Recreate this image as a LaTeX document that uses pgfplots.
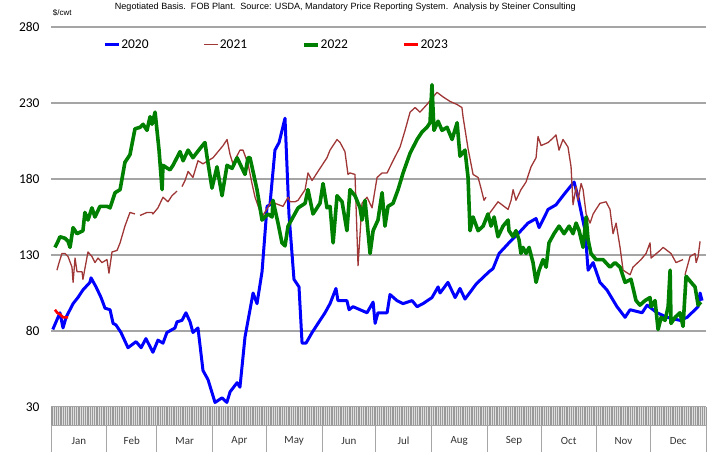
\documentclass[border=0pt]{standalone}
\usepackage{fontspec}
\setmainfont{Carlito}
\newfontfamily\arialfont{Liberation Sans}
\usepackage{pgfplots}
\pgfplotsset{compat=1.18}

\definecolor{c2020}{RGB}{0,0,255}
\definecolor{c2021}{RGB}{160,55,55}
\definecolor{c2022}{RGB}{0,128,0}
\definecolor{c2023}{RGB}{255,0,0}
\definecolor{gridgray}{RGB}{165,165,165}

\begin{document}
\begin{tikzpicture}
\begin{axis}[
    scale only axis,
    width=655bp, height=380bp,
    xmin=0, xmax=365,
    ymin=30, ymax=280,
    ytick={30,80,130,180,230,280},
    xtick=\empty,
    ymajorgrids,
    grid style={gridgray, line width=1.4bp},
    axis line style={draw=none},
    tick style={draw=none},
    yticklabel style={font=\fontsize{13.5}{14}\selectfont, anchor=east, xshift=-8bp},
    /pgf/number format/assume math mode=true,
    clip=false,
    unbounded coords=jump,
    legend columns=4,
    legend image code/.code={\draw[#1,line cap=butt] (0bp,0bp) -- (14bp,0bp);},
    legend style={at={(rel axis cs:0.075,0.975)}, anchor=north west, draw=none, fill=none,
        font=\fontsize{13.5}{14}\selectfont, nodes={inner sep=1bp},
        /tikz/every even column/.append style={column sep=54bp}},
]
% 2020
\addplot[c2020, line width=3bp, line join=round] coordinates {
(1,81) (5,92) (6.7,82) (8.4,89) (12.3,98) (15,102) (17.8,107) (21.7,112) (22.3,115) (25.1,109)
(27.9,102) (30.1,95) (32.9,94) (34.6,85) (36.2,84) (39,79) (42.9,69) (47.4,73) (50.2,69) (52.9,75)
(56.8,66) (59.6,74) (62.4,72) (64.6,79) (69.1,82) (70.2,86) (73,87) (75.2,92) (77.5,86) (79.1,79)
(81.9,82) (84.7,54) (87.5,48) (91.4,33) (95.3,36) (98,33) (99.8,40) (103.7,46) (105.3,43) (108.1,76)
(110.9,94) (112.6,105) (114.8,98) (117.6,119) (120.4,162) (122,163) (124.8,199) (127.1,204) (130.4,220) (132.6,157)
(135.4,114) (138.2,109) (139.9,72) (142.1,72) (145.5,79) (148.8,85) (152.7,92) (155.5,98) (158.8,108) (159.9,100)
(164.9,100) (166.1,94) (168.3,96) (176.1,92) (179.5,99) (180.6,85) (182.2,92) (187.3,92) (188.9,104) (192.8,100)
(196.2,98) (201.2,100) (204,96) (207.3,98) (212.3,102) (215.7,109) (216.8,105) (221.2,112) (225.2,102) (227.9,108)
(230.7,101) (237,111) (244.1,119) (246.3,121) (249.7,131) (255.2,138) (260.3,144) (265.8,151) (270.3,154) (272,148)
(277,160) (281.4,163) (285.3,169) (288.7,174) (291.5,178) (293.7,168) (297.6,146) (299.3,120) (302.1,125) (305.9,112)
(309.8,107) (315.4,96) (319.9,89) (322.7,94) (329.4,92) (332.2,97) (337.7,92) (343.3,89) (350.5,87) (354.5,89)
(360.6,96) (361.7,105) (362.8,100)
};
\addlegendentry{2020}
% 2021
\addplot[c2021, line width=1.3bp, line join=round] coordinates {
(3.3,120) (4.5,125) (6.1,131) (7.8,131) (9.5,129) (11.7,122) (12.3,112) (13.4,128) (14.5,119) (17.3,119)
(17.8,114) (20.6,132) (22.8,129) (24.5,125) (26.2,128) (28.4,125) (31.2,127) (32.3,118) (34,132) (36.8,133)
(38.5,138) (41.2,149) (44,158) (46.8,157) (48,nan) (49.6,156) (53.5,158) (56.3,158) (56.8,157) (59.6,161)
(62.4,168) (65.2,165) (67.4,169) (70.2,172) (71.5,nan) (73,175) (74.7,179) (76.4,185) (79.1,181) (81.9,192)
(84.7,190) (87.5,192) (90.3,194) (93.1,198) (95.9,202) (98.1,206) (99.8,196) (101.4,190) (105.3,199) (107,199)
(109.8,190) (112,177) (113.7,168) (117.6,155) (123.2,166) (124.8,164) (129.3,162) (132.1,168) (133.2,165) (136,165)
(137.7,166) (141.6,173) (143.2,184) (145.5,179) (149.9,187) (153.8,194) (155.5,199) (159.4,206) (161.1,204) (163.8,198)
(165.5,183) (166.6,184) (169.4,183) (171.1,123) (173.3,164) (176.1,168) (178.9,161) (181.7,181) (184.5,184) (187.3,184)
(190.6,192) (194.5,201) (197.3,212) (200.1,224) (202.9,227) (205.6,224) (209.5,229) (212.9,234) (215.1,237) (218.5,234)
(222.4,231) (226.3,229) (229,227) (229.6,221) (232.4,200) (235.2,183) (238,181) (239.6,174) (241.3,166) (242.4,168)
(243.3,nan) (244.1,157) (249.1,165) (254.7,160) (256.4,166) (257.5,173) (259.1,166) (261.9,173) (264.7,178) (267.5,188)
(270.3,194) (271.4,208) (273.1,202) (277,204) (279.8,207) (281.4,209) (283.1,199) (285.3,206) (288.1,201) (289.8,188)
(290.9,163) (292.6,175) (293.7,166) (295.4,177) (296.5,173) (298.2,157) (300.4,151) (302.1,157) (303.7,160) (305.9,164)
(309.3,165) (311.5,160) (313.2,144) (314.9,151) (317.1,135) (318.8,120) (322.7,117) (324.3,122) (328.8,127) (331.6,131)
(333.8,138) (334.4,128) (339.4,133) (341.1,135) (345.5,131) (348.3,125) (352.2,127) (352.8,nan) (353.3,117) (356.1,129)
(358.9,131) (359.5,125) (360.6,129) (361.7,139)
};
\addlegendentry{2021}
% 2022
\addplot[c2022, line width=3.6bp, line join=round] coordinates {
(2.2,135) (3.9,139) (5,142) (7.8,141) (9.5,139) (10.6,135) (12.3,148) (14.5,144) (17.8,146) (18.9,158)
(20.6,153) (22.8,161) (24.5,155) (27.3,162) (31.2,162) (32.9,161) (35.7,171) (38.5,173) (41.2,191) (44,196)
(46.8,213) (49.6,214) (51.3,216) (53.5,212) (55.2,221) (56.3,216) (58,224) (59.6,206) (60.2,199) (61.9,173)
(62.4,189) (66.3,186) (68,189) (71.9,198) (73.6,192) (76.4,199) (79.1,194) (83,200) (85.8,204) (86.9,195)
(89.7,174) (92.5,188) (95.3,169) (98.1,189) (100.9,187) (103.7,194) (105.3,190) (108.1,183) (109.8,194) (110.9,194)
(114.8,173) (117.6,153) (120.9,157) (123.2,155) (123.7,166) (126.5,151) (128.7,138) (130.4,136) (132.1,149) (134.9,155)
(137.7,161) (141.6,164) (143.2,173) (146,157) (149.9,164) (151.6,177) (153.8,161) (155.5,162) (157.2,138) (159.4,169)
(162.2,165) (164.9,146) (166.6,173) (169.4,169) (172.2,161) (173.3,153) (175,166) (177.8,131) (179.5,146) (182.2,153)
(184.5,171) (186.1,149) (187.8,162) (190.6,164) (193.4,173) (196.2,184) (200.1,197) (204,206) (206.8,211) (209.5,214)
(211.2,217) (212.3,242) (213.4,212) (215.7,218) (217.9,212) (220.7,214) (223.5,206) (226.3,217) (227.9,195) (230.7,199)
(232.4,181) (233.5,146) (235.2,155) (238,146) (240.8,149) (243.5,157) (245.2,149) (246.9,155) (249.1,142) (251.9,149)
(254.7,153) (255.2,146) (257.5,142) (259.1,146) (260.8,140) (261.9,131) (263,135) (264.7,131) (266.4,135) (268.6,125)
(270.3,112) (272,120) (274.2,127) (275.9,122) (277.5,138) (280.3,144) (283.1,149) (285.9,144) (288.7,149) (290.9,144)
(292.6,151) (294.3,146) (296.5,135) (298.2,155) (299.3,140) (300.9,131) (303.7,127) (307.6,127) (311.5,122) (314.3,125)
(317.1,122) (319.9,112) (323.2,114) (326,100) (328.2,97) (331,100) (333.8,102) (334.4,96) (336.6,100) (338.3,81)
(340,89) (342.2,87) (343.9,96) (345,120) (345.5,85) (347.8,89) (350.5,92) (352.2,83) (353.9,116) (356.7,112)
(358.9,109) (360.6,97) (362.2,99)
};
\addlegendentry{2022}
% 2023
\addplot[c2023, line width=2.6bp, line join=round] coordinates {
(2.2,94) (3.5,92) (5,91) (6.7,89) (9.5,89)
};
\addlegendentry{2023}

% daily strip under the plot
\fill[gray!25] (axis cs:0,30) rectangle (axis cs:365,18.2);
\pgfplotsinvokeforeach{0,...,365}{\draw[gray!80, line width=0.7bp] (axis cs:#1,30) -- (axis cs:#1,18.2);}
% month boxes
\draw[gray!70, line width=0.8bp] (axis cs:0,18.2) -- (axis cs:365,18.2);
\pgfplotsinvokeforeach{0,31,59,90,120,151,181,212,243,273,304,334,365}{\draw[gray!70, line width=0.8bp] (axis cs:#1,18.2) -- (axis cs:#1,0.4);}
\begin{scope}[every node/.style={font=\fontsize{11}{12}\selectfont, text=black!80}]
\node at (axis cs:15.5,7.8) {Jan};
\node at (axis cs:45,7.8) {Feb};
\node at (axis cs:74.5,7.8) {Mar};
\node at (axis cs:105,7.8) {Apr};
\node at (axis cs:135.5,7.8) {May};
\node at (axis cs:166,7.8) {Jun};
\node at (axis cs:196.5,7.8) {Jul};
\node at (axis cs:227.5,7.8) {Aug};
\node at (axis cs:258,7.8) {Sep};
\node at (axis cs:288.5,7.8) {Oct};
\node at (axis cs:319,7.8) {Nov};
\node at (axis cs:349.5,7.8) {Dec};
\end{scope}
% header
\node[anchor=base west, font=\arialfont\fontsize{8}{9}\selectfont, inner sep=0pt] at (axis cs:1,287.5) {\$/cwt};
\node[anchor=base west, font=\arialfont\fontsize{9.1}{10}\selectfont, inner sep=0pt] at (axis cs:35.5,291.5)
  {Negotiated Basis.\ \ FOB Plant.\ \ Source: USDA, Mandatory Price Reporting System.\ \ Analysis by Steiner Consulting};
\end{axis}
\pgfresetboundingbox
\path (-51bp,-45bp) rectangle (672bp,407bp);
\end{tikzpicture}
\end{document}
